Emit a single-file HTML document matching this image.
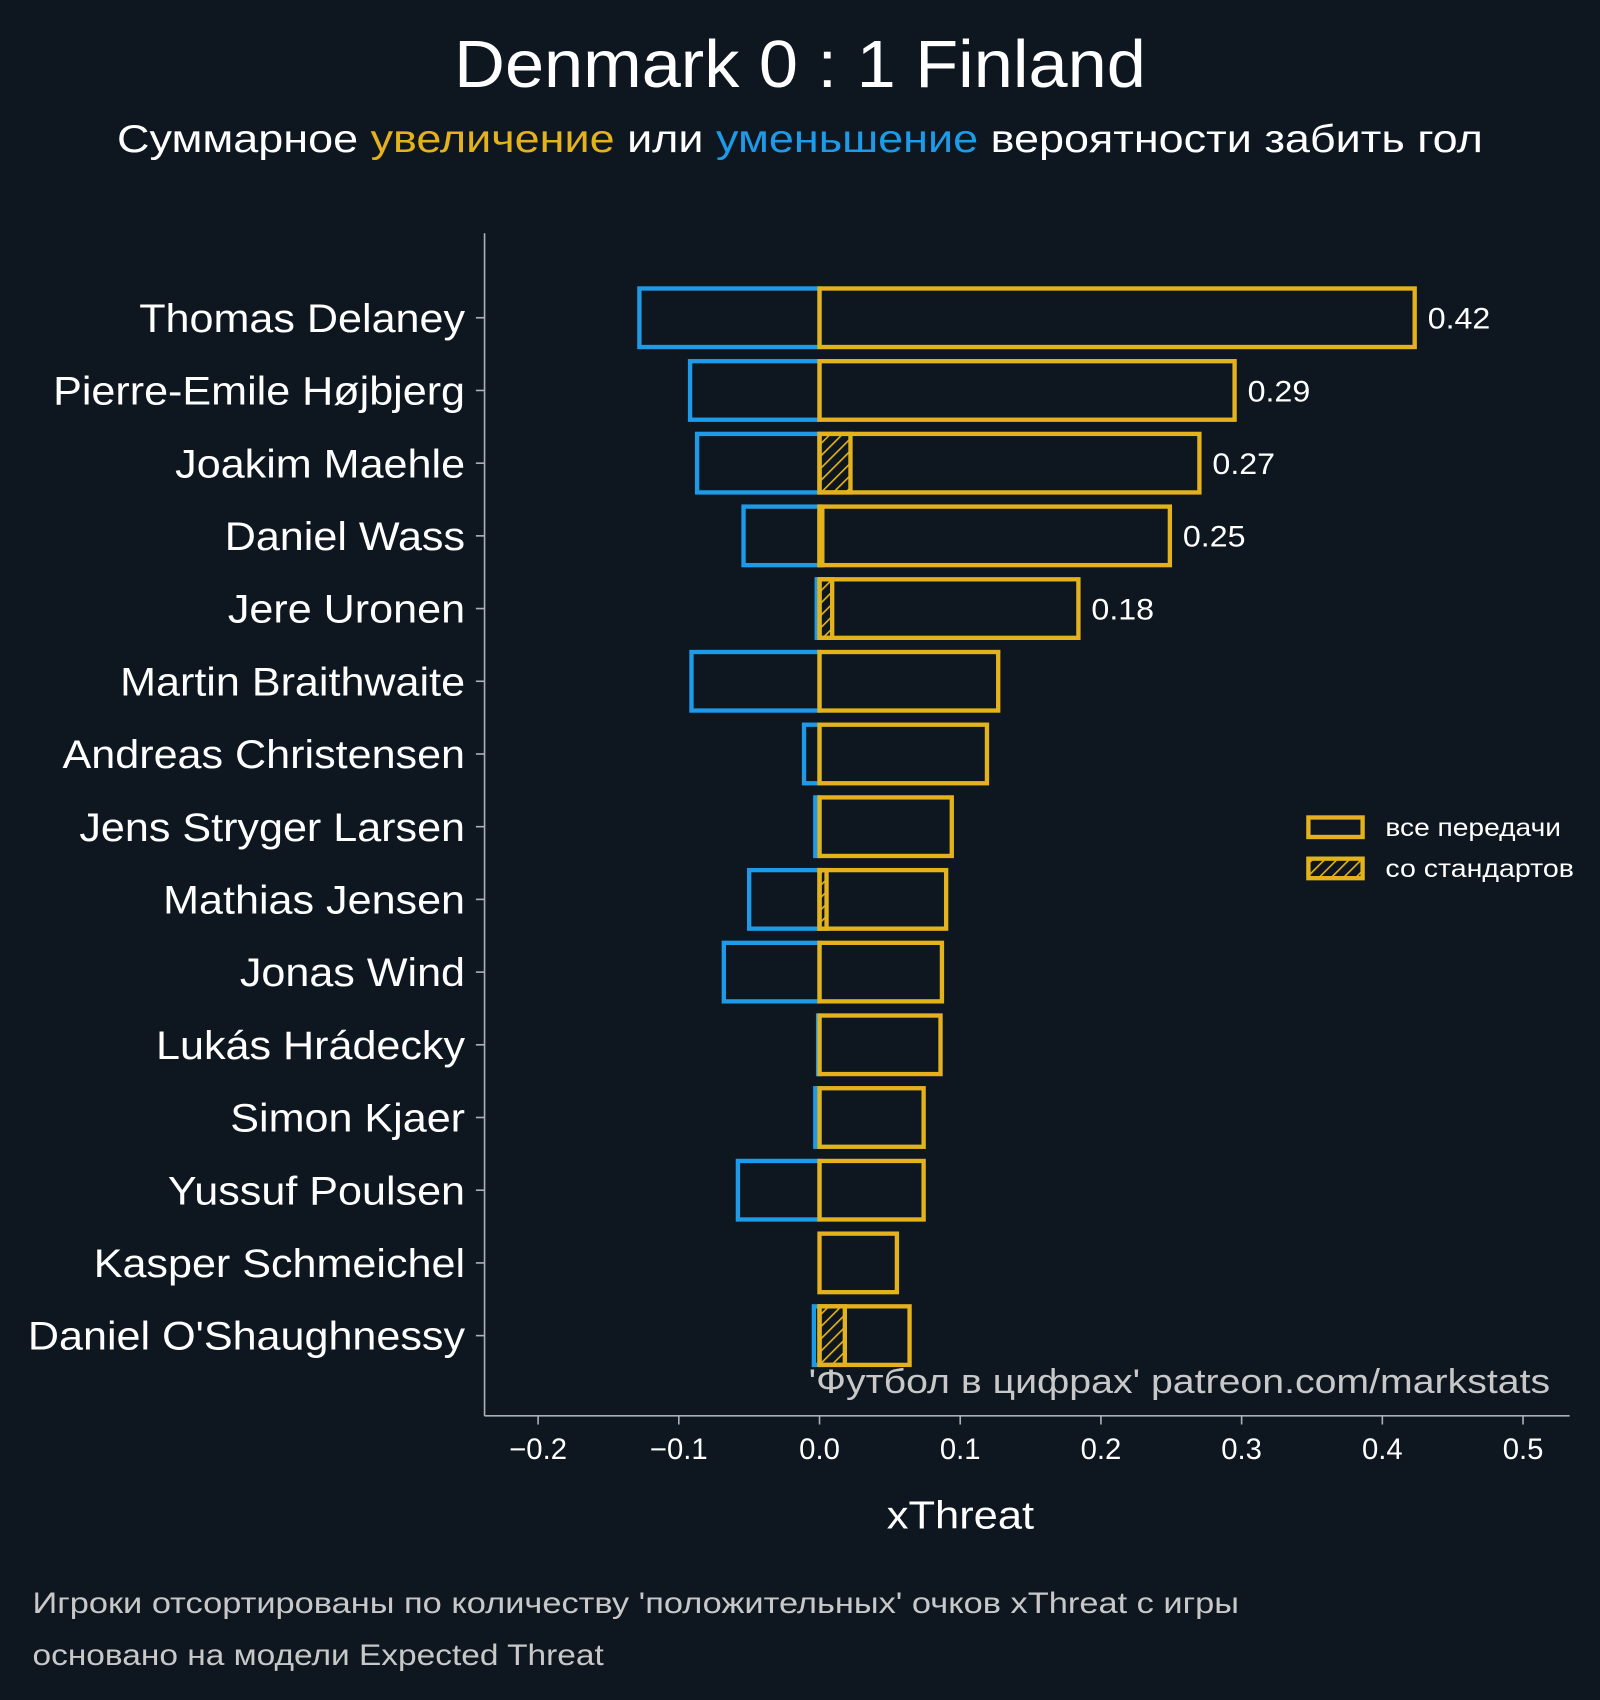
<!DOCTYPE html>
<html><head><meta charset="utf-8"><style>
html,body{margin:0;padding:0;background:#0e1720;}
svg{display:block;font-family:"Liberation Sans","DejaVu Sans",sans-serif;}
</style></head><body>
<svg id="chart" width="1600" height="1700" viewBox="0 0 1476 1568" xmlns="http://www.w3.org/2000/svg">
<defs>
<pattern id="hatch" patternUnits="userSpaceOnUse" width="8" height="8" patternTransform="rotate(45)">
<line x1="0" y1="0" x2="0" y2="8" stroke="#e3b21c" stroke-width="3"/>
</pattern>
</defs>
<rect x="0" y="0" width="1476" height="1568" fill="#0e1720"/>
<text x="419" y="80" textLength="638" lengthAdjust="spacingAndGlyphs" font-size="62" fill="#ffffff">Denmark 0 : 1 Finland</text>
<text x="108" y="140" textLength="1260" lengthAdjust="spacingAndGlyphs" font-size="36" fill="#ffffff">Суммарное <tspan fill="#e3b21c">увеличение</tspan> или <tspan fill="#1e9be8">уменьшение</tspan> вероятности забить гол</text>
<g id="plot"></g>
<g>
<rect x="1207" y="754" width="50" height="18" fill="none" stroke="#e3b21c" stroke-width="4"/>
<text x="1278" y="771" textLength="162" lengthAdjust="spacingAndGlyphs" font-size="23" fill="#ffffff">все передачи</text>
<rect x="1207" y="792" width="50" height="18" fill="url(#hatch)" stroke="#e3b21c" stroke-width="4"/>
<text x="1278" y="809" textLength="174" lengthAdjust="spacingAndGlyphs" font-size="23" fill="#ffffff">со стандартов</text>
</g>
<text x="746" y="1285" textLength="684" lengthAdjust="spacingAndGlyphs" font-size="32" fill="#c8c8c8">'Футбол в цифрах' patreon.com/markstats</text>
<text x="818" y="1410" textLength="136" lengthAdjust="spacingAndGlyphs" font-size="36" fill="#ffffff">xThreat</text>
<text x="30" y="1488" textLength="1113" lengthAdjust="spacingAndGlyphs" font-size="27" fill="#c8c8c8">Игроки отсортированы по количеству 'положительных' очков xThreat с игры</text>
<text x="30" y="1536" textLength="527" lengthAdjust="spacingAndGlyphs" font-size="27" fill="#c8c8c8">основано на модели Expected Threat</text>
</svg>
<script>
const players = ["Thomas Delaney","Pierre-Emile Højbjerg","Joakim Maehle","Daniel Wass","Jere Uronen","Martin Braithwaite","Andreas Christensen","Jens Stryger Larsen","Mathias Jensen","Jonas Wind","Lukás Hrádecky","Simon Kjaer","Yussuf Poulsen","Kasper Schmeichel","Daniel O'Shaughnessy"];
const positiveValues = [0.423,0.295,0.270,0.249,0.184,0.127,0.119,0.094,0.090,0.087,0.086,0.074,0.074,0.055,0.064];
const negativeValues = [-0.128,-0.092,-0.087,-0.054,-0.002,-0.091,-0.011,-0.003,-0.050,-0.068,-0.001,-0.003,-0.058,0,-0.004];
const setPieceValues = [0,0,0.022,0.002,0.009,0,0,0,0.005,0,0,0,0,0,0.018];
const valueLabels = ["0.42","0.29","0.27","0.25","0.18","","","","","","","","","",""];
const xTicks = [-0.2,-0.1,0.0,0.1,0.2,0.3,0.4,0.5];
const xTickLabels = ["−0.2","−0.1","0.0","0.1","0.2","0.3","0.4","0.5"];

const NS="http://www.w3.org/2000/svg";
const g=document.getElementById('plot');
const x0=756, ppu=1298;
function xs(v){return x0+v*ppu;}
function ys(i){return 293+i*67.07;}
const H=54;
function mk(tag,attrs){const e=document.createElementNS(NS,tag);for(const k in attrs)e.setAttribute(k,attrs[k]);g.appendChild(e);return e;}

let e=mk('line',{x1:447,y1:215,x2:447,y2:1306,stroke:'#aab0b6','stroke-width':1.5});


e=mk('line',{x1:447,y1:1306,x2:1448,y2:1306,stroke:'#aab0b6','stroke-width':1.5});



xTicks.forEach((t,i)=>{
  let l=mk('line',{x1:xs(t),y1:1306,x2:xs(t),y2:1314,stroke:'#aab0b6','stroke-width':1.5});
  
  
  let tx=mk('text',{x:xs(t),y:1346,'text-anchor':'middle','font-size':27,fill:'#ffffff'});
  tx.textContent=xTickLabels[i];
  
  
});

players.forEach((p,i)=>{
  const y=ys(i);
  let l=mk('line',{x1:439,y1:y,x2:447,y2:y,stroke:'#aab0b6','stroke-width':1.5});
  
  
  let t=mk('text',{x:0,y:0,'text-anchor':'end','font-size':37,fill:'#ffffff',transform:'translate(429,'+(y+13)+') scale(1.075,1)'});
  t.textContent=p;
  
  
  const n=negativeValues[i];
  if(n<0){
    let r=mk('rect',{x:xs(n),y:y-H/2,width:xs(0)-xs(n),height:H,fill:'none',stroke:'#1e9be8','stroke-width':4});
    
    
  }
  const s=setPieceValues[i];
  if(s>0){
    let r=mk('rect',{x:xs(0),y:y-H/2,width:xs(s)-xs(0),height:H,fill:'url(#hatch)',stroke:'#e3b21c','stroke-width':4});
    
    
  }
  const v=positiveValues[i];
  let r=mk('rect',{x:xs(0),y:y-H/2,width:xs(v)-xs(0),height:H,fill:'none',stroke:'#e3b21c','stroke-width':4});
  
  
  if(valueLabels[i]){
    let vt=mk('text',{x:0,y:0,'font-size':27,fill:'#ffffff',transform:'translate('+(xs(v)+12)+','+(y+10)+') scale(1.1,1)'});
    vt.textContent=valueLabels[i];
    
    
  }
});
</script>
</body></html>
